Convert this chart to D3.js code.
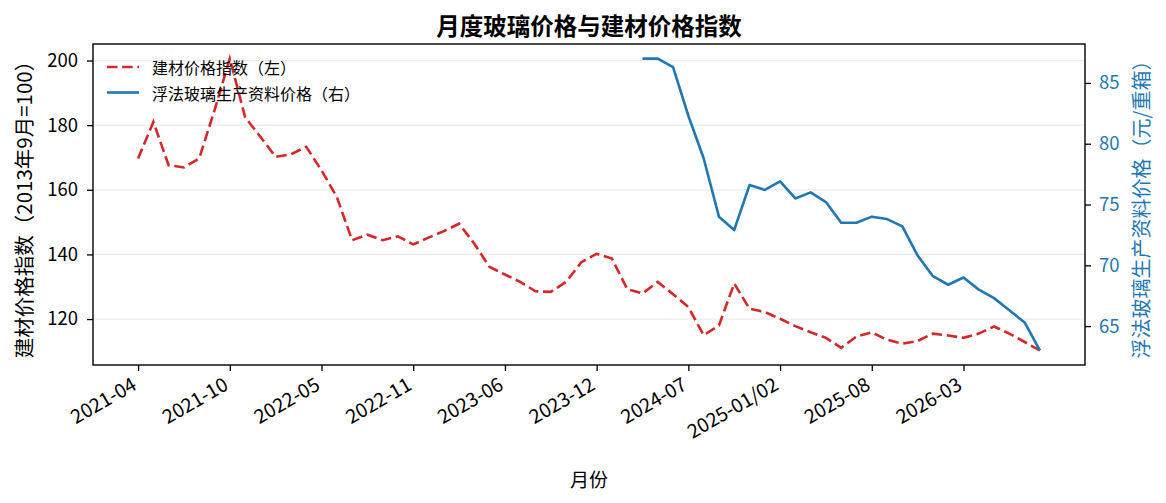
<!DOCTYPE html>
<html>
<head>
<meta charset="utf-8">
<script src="https://cdn.jsdelivr.net/npm/d3@7"></script>
<style>
  body { margin: 0; background: #fff; }
  text { font-family: "Noto Sans CJK SC", "Noto Sans", sans-serif; }
</style>
</head>
<body>
<div id="chartDIV"></div>
<script>
var WIDTH = 1166, HEIGHT = 503;
var PLOT = {left: 93, right: 1085, top: 44, bottom: 365};
var RED = "#d62728", BLUE = "#1f77b4";

//monthly categories, Jan and Feb are reported together
var months = [
  "2021-04","2021-05","2021-06","2021-07","2021-08","2021-09","2021-10","2021-11","2021-12",
  "2022-01/02","2022-03","2022-04","2022-05","2022-06","2022-07","2022-08","2022-09","2022-10","2022-11","2022-12",
  "2023-01/02","2023-03","2023-04","2023-05","2023-06","2023-07","2023-08","2023-09","2023-10","2023-11","2023-12",
  "2024-01/02","2024-03","2024-04","2024-05","2024-06","2024-07","2024-08","2024-09","2024-10","2024-11","2024-12",
  "2025-01/02","2025-03","2025-04","2025-05","2025-06","2025-07","2025-08","2025-09","2025-10","2025-11","2025-12",
  "2026-01/02","2026-03","2026-04","2026-05","2026-06","2026-07","2026-08"
];

//建材价格指数 (left axis)
var materialIndex = [
  169.7, 181.0, 167.6, 166.9, 169.7, 184.6, 200.6, 182.5, 176.4, 170.2,
  171.0, 173.3, 166.0, 157.8, 144.4, 146.1, 144.4, 145.6, 143.1, 145.2,
  147.2, 149.5, 143.3, 136.1, 133.8, 131.5, 128.6, 128.4, 131.5, 137.6,
  140.2, 138.7, 129.3, 127.9, 131.5, 127.7, 123.7, 115.0, 118.0, 131.0,
  123.2, 122.2, 120.1, 117.8, 115.9, 114.2, 111.1, 114.6, 115.9, 113.6,
  112.4, 113.2, 115.5, 114.9, 114.2, 115.5, 117.7, 115.5, 112.9, 110.3
];

//浮法玻璃生产资料价格 (right axis), only reported from 2024-04 on
var glassPrice = [
  null, null, null, null, null, null, null, null, null, null,
  null, null, null, null, null, null, null, null, null, null,
  null, null, null, null, null, null, null, null, null, null,
  null, null, null, 87.0, 87.0, 86.3, 82.3, 78.8, 74.0, 72.9,
  76.6, 76.2, 76.9, 75.5, 76.0, 75.2, 73.5, 73.5, 74.0, 73.8,
  73.2, 70.8, 69.1, 68.4, 69.0, 68.0, 67.3, 66.3, 65.3, 63.0
];

var leftTicks = [120, 140, 160, 180, 200];
var rightTicks = [65, 70, 75, 80, 85];
var xTickStep = 6; //a label every 6th category

//5% margin round the data, like the plotting default
function padExtent(values) {
  var ext = d3.extent(values.filter(function(v) { return v != null; }));
  var pad = (ext[1] - ext[0]) * 0.05;
  return [ext[0] - pad, ext[1] + pad];
}

var svg = d3.select("#chartDIV")
  .append("svg")
  .attr("width", WIDTH)
  .attr("height", HEIGHT);

var x = d3.scaleLinear()
  .domain(padExtent(d3.range(months.length)))
  .range([PLOT.left, PLOT.right]);
var yLeft = d3.scaleLinear()
  .domain(padExtent(materialIndex))
  .range([PLOT.bottom, PLOT.top]);
var yRight = d3.scaleLinear()
  .domain(padExtent(glassPrice))
  .range([PLOT.bottom, PLOT.top]);

//horizontal grid from the left axis
svg.append("g")
  .selectAll("line")
  .data(leftTicks)
  .enter()
  .append("line")
  .attr("x1", PLOT.left).attr("x2", PLOT.right)
  .attr("y1", function(d) { return yLeft(d); })
  .attr("y2", function(d) { return yLeft(d); })
  .attr("stroke", "#ebebeb")
  .attr("stroke-width", 1.3);

var redLine = d3.line()
  .x(function(d, i) { return x(i); })
  .y(function(d) { return yLeft(d); });
var blueLine = d3.line()
  .defined(function(d) { return d != null; })
  .x(function(d, i) { return x(i); })
  .y(function(d) { return yRight(d); });

svg.append("path")
  .datum(materialIndex)
  .attr("d", redLine)
  .attr("fill", "none")
  .attr("stroke", RED)
  .attr("stroke-width", 2.6)
  .attr("stroke-dasharray", "10.5 4.7");

svg.append("path")
  .datum(glassPrice)
  .attr("d", blueLine)
  .attr("fill", "none")
  .attr("stroke", BLUE)
  .attr("stroke-width", 2.6)
  .attr("stroke-linejoin", "round");

//axes
var xTickValues = d3.range(0, months.length, xTickStep);
var xAxis = svg.append("g")
  .attr("transform", "translate(0," + PLOT.bottom + ")")
  .call(d3.axisBottom(x).tickValues(xTickValues).tickSize(6).tickFormat(function(i) { return months[i]; }));

var leftAxis = svg.append("g")
  .attr("transform", "translate(" + PLOT.left + ",0)")
  .call(d3.axisLeft(yLeft).tickValues(leftTicks).tickSize(6).tickPadding(9));

var rightAxis = svg.append("g")
  .attr("transform", "translate(" + PLOT.right + ",0)")
  .call(d3.axisRight(yRight).tickValues(rightTicks).tickSize(6).tickPadding(8));

[xAxis, leftAxis, rightAxis].forEach(function(a) {
  a.select(".domain").remove();
  a.selectAll("line").attr("stroke", "#000").attr("stroke-width", 1.3);
  a.selectAll("text").attr("font-size", 18.5).style("font-family", "'Noto Sans CJK SC', sans-serif");
});
rightAxis.selectAll("text").attr("fill", BLUE);

//rotated month labels, right end under the tick
xAxis.selectAll("text")
  .attr("font-size", 19.5)
  .attr("text-anchor", "end")
  .attr("x", 0)
  .attr("y", 0)
  .attr("dy", "0.75em")
  .attr("transform", "translate(-8,11) rotate(-30)");

//frame round the plot
svg.append("rect")
  .attr("x", PLOT.left).attr("y", PLOT.top)
  .attr("width", PLOT.right - PLOT.left)
  .attr("height", PLOT.bottom - PLOT.top)
  .attr("fill", "none")
  .attr("stroke", "#000")
  .attr("stroke-width", 1.4);

//titles
svg.append("text")
  .attr("x", (PLOT.left + PLOT.right) / 2).attr("y", 35)
  .attr("text-anchor", "middle")
  .attr("font-size", 23.5).attr("font-weight", "bold")
  .text("月度玻璃价格与建材价格指数");

svg.append("text")
  .attr("x", (PLOT.left + PLOT.right) / 2).attr("y", 487)
  .attr("text-anchor", "middle")
  .attr("font-size", 19)
  .text("月份");

svg.append("text")
  .attr("transform", "translate(23," + (PLOT.top + PLOT.bottom) / 2 + ") rotate(-90)")
  .attr("text-anchor", "middle")
  .attr("dominant-baseline", "central")
  .attr("font-size", 20.5)
  .text("建材价格指数（2013年9月=100）");

svg.append("text")
  .attr("transform", "translate(1140," + (PLOT.top + PLOT.bottom) / 2 + ") rotate(-90)")
  .attr("text-anchor", "middle")
  .attr("dominant-baseline", "central")
  .attr("font-size", 20)
  .attr("fill", BLUE)
  .text("浮法玻璃生产资料价格（元/重箱）");

//legend, no frame
var legendItems = [
  {label: "建材价格指数（左）", color: RED, dash: "10.5 4.7"},
  {label: "浮法玻璃生产资料价格（右）", color: BLUE, dash: null}
];
var legend = svg.append("g")
  .selectAll("g")
  .data(legendItems)
  .enter()
  .append("g")
  .attr("transform", function(d, i) { return "translate(107," + (67 + i * 25.5) + ")"; });
legend.append("line")
  .attr("x1", 0).attr("x2", 32)
  .attr("stroke", function(d) { return d.color; })
  .attr("stroke-width", 2.6)
  .attr("stroke-dasharray", function(d) { return d.dash; });
legend.append("text")
  .attr("x", 45)
  .attr("dominant-baseline", "central")
  .attr("font-size", 16)
  .text(function(d) { return d.label; });
</script>
</body>
</html>
